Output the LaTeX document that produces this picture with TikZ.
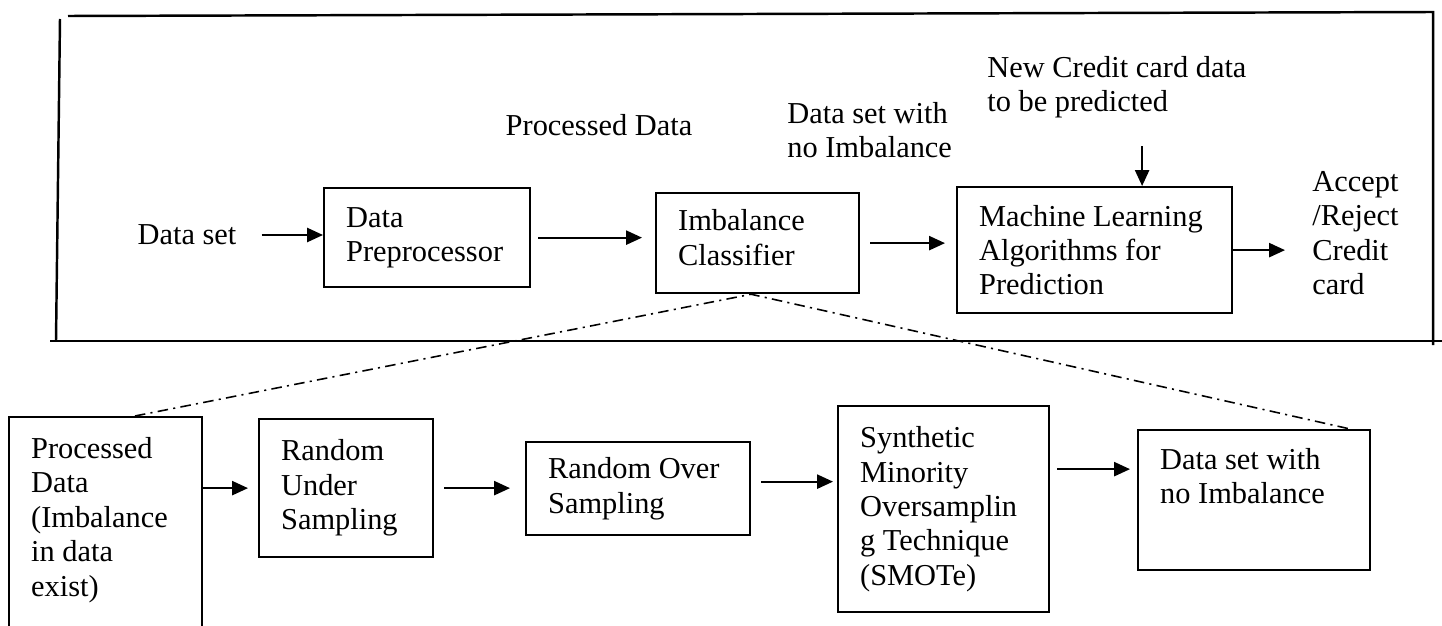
\documentclass[tikz,border=0pt]{standalone}
\usepackage{fontspec}
\setmainfont{Liberation Serif}
\usetikzlibrary{calc}
\usetikzlibrary{arrows.meta}

\begin{document}
\begin{tikzpicture}[x=0.02cm, y=-0.02cm,
    every node/.style={font=\fontsize{17.3}{19.6}\selectfont},
    box/.style={draw, line width=1.3pt, anchor=north west, align=flush left, inner xsep=0.44cm, inner ysep=0pt},
    txt/.style={align=flush left, inner sep=0pt},
    arr/.style={line width=1.1pt, -{Triangle[length=9pt,width=8pt]}},
    frame/.style={line width=1.4pt},
    dashdot/.style={line width=0.9pt, dash pattern=on 6pt off 3pt on 1.2pt off 3pt}]
    \useasboundingbox (0,0) rectangle (1442,625);

    % outer frame
    \draw[frame] (68,16) -- (1433,12) -- (1433,345);
    \draw[frame] (60,19) -- (56,341);
    \draw[frame] (50,341) -- (1442,341);

    % upper flow
    \node[txt] (dataset) at (187,235) {Data set};
    \node[box, minimum width=4.12cm, minimum height=1.98cm, text width=3.24cm] (prep) at (323,187) {Data\\Preprocessor};
    \node[box, minimum width=4.06cm, minimum height=2cm, text width=3.18cm] (imb) at (655,192) {Imbalance\\Classifier\\[-13pt]~};
    \node[box, minimum width=5.5cm, minimum height=2.52cm, text width=4.62cm] (ml) at (956,186) {Machine Learning\\Algorithms for\\Prediction};
    \node[txt] (procd) at (599,125) {Processed Data};
    \node[txt, anchor=west] (dswni) at (787,130) {Data set with\\no Imbalance};
    \node[txt, anchor=west] (newcc) at (987,87) {New Credit card data\\to be predicted};
    \node[txt, anchor=west] (accept) at (1312,233) {Accept\\/Reject\\Credit\\card};

    \draw[arr, shorten <=0.5cm] (dataset.east) -- (dataset.east -| prep.west);
    \draw[arr, shorten <=0.14cm, shorten >=0.26cm] (prep.east) -- (prep.east -| imb.west);
    \draw[arr, shorten <=0.2cm, shorten >=0.22cm] (imb.east) -- (imb.east -| ml.west);
    \draw[arr, shorten >=0.54cm] (ml.east) -- (ml.east -| accept.west);
    \draw[arr, shorten <=0.56cm] ([xshift=0.95cm]ml.north |- newcc.south) -- ([xshift=0.95cm]ml.north);

    % lower flow
    \node[box, minimum width=3.86cm, minimum height=4.32cm, text width=2.98cm] (proc) at (8,416) {Processed\\Data\\(Imbalance\\in data\\exist)\\[-10pt]~};
    \node[box, minimum width=3.48cm, minimum height=2.76cm, text width=2.6cm] (under) at (258,418) {Random\\Under\\Sampling};
    \node[box, minimum width=4.48cm, minimum height=1.86cm, text width=3.6cm] (over) at (525,441) {Random Over\\Sampling};
    \node[box, minimum width=4.22cm, minimum height=4.12cm, text width=3.34cm] (smote) at (837,405) {Synthetic\\Minority\\Oversamplin\\g Technique\\(SMOTe)};
    \node[box, minimum width=4.64cm, minimum height=2.8cm, text width=3.76cm] (noimb) at (1137,429) {Data set with\\no Imbalance\\[8pt]~};

    \draw[arr, shorten >=0.2cm] (under.west -| proc.east) -- (under.west);
    \draw[arr, shorten <=0.2cm, shorten >=0.3cm] (under.east) -- (under.east -| over.west);
    \draw[arr, shorten <=0.2cm, shorten >=0.08cm] ([yshift=0.14cm]over.east) -- ([yshift=0.14cm]over.east -| smote.west);
    \draw[arr, shorten <=0.14cm, shorten >=0.14cm] ([yshift=0.62cm]noimb.west -| smote.east) -- ([yshift=0.62cm]noimb.west);

    % zoom lines
    \draw[dashdot] ($(proc.north west)!0.65!(proc.north east)$) -- ([xshift=-0.13cm]imb.south) -- ($(noimb.north west)!0.91!(noimb.north east)$);
\end{tikzpicture}
\end{document}
